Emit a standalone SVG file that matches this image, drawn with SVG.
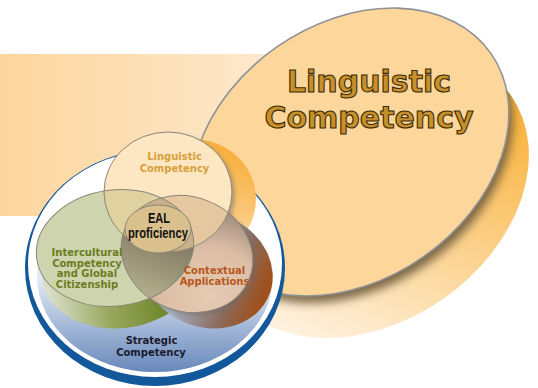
<svg xmlns="http://www.w3.org/2000/svg" width="538" height="388" viewBox="0 0 538 388">
<style>
  .lbl{font-family:"DejaVu Sans",Verdana,sans-serif;font-weight:bold;font-size:10px;text-anchor:middle}
  .title{font-family:"DejaVu Sans",Verdana,sans-serif;font-weight:bold;font-size:30px;text-anchor:middle;fill:#c8902b;stroke:#3a2c06;stroke-width:1.1}
  .edge{fill:none;stroke:#8b8577;stroke-width:1}
  .eal{font-family:"Liberation Sans",Arial,sans-serif;font-weight:bold;font-size:14px;text-anchor:middle;fill:#111}
</style>
<defs>
  <ellipse id="eBig" cx="350" cy="152" rx="172" ry="128" transform="rotate(-35 350 152)"/>
  <ellipse id="eG" cx="115" cy="248" rx="79" ry="58" transform="rotate(-8 115 248)"/>
  <ellipse id="eL" cx="168" cy="192" rx="64" ry="60"/>
  <ellipse id="eC" cx="187" cy="254" rx="67" ry="57" transform="rotate(22 187 254)"/>
  <clipPath id="cShadow"><use href="#eBig" transform="translate(20,42)"/></clipPath>
  <clipPath id="cG"><use href="#eG"/></clipPath>
  <clipPath id="cL"><use href="#eL"/></clipPath>
  <clipPath id="cC"><use href="#eC"/></clipPath>
  <filter id="blur5" x="-20%" y="-20%" width="140%" height="140%"><feGaussianBlur stdDeviation="5"/></filter>
  <filter id="blur2" x="-20%" y="-20%" width="140%" height="140%"><feGaussianBlur stdDeviation="2"/></filter>
  <linearGradient id="band" gradientUnits="userSpaceOnUse" x1="0" y1="0" x2="300" y2="0">
    <stop offset="0" stop-color="#fcd59c"/><stop offset="1" stop-color="#fdebd2"/>
  </linearGradient>
  <linearGradient id="shGrad" gradientUnits="userSpaceOnUse" x1="270" y1="330" x2="520" y2="180">
    <stop offset="0" stop-color="#fef1de"/><stop offset="0.4" stop-color="#fcd9a0"/><stop offset="1" stop-color="#f9b43e"/>
  </linearGradient>
  <linearGradient id="blueReg" gradientUnits="userSpaceOnUse" x1="0" y1="240" x2="0" y2="372">
    <stop offset="0" stop-color="#ffffff"/><stop offset="0.35" stop-color="#d8e2f0"/><stop offset="1" stop-color="#6888bb"/>
  </linearGradient>
  <linearGradient id="orangeExt" gradientUnits="userSpaceOnUse" x1="250" y1="150" x2="215" y2="230">
    <stop offset="0" stop-color="#f7aa30"/><stop offset="1" stop-color="#fbd294"/>
  </linearGradient>
  <linearGradient id="greenExt" gradientUnits="userSpaceOnUse" x1="40" y1="0" x2="165" y2="0">
    <stop offset="0" stop-color="#d9dec8"/><stop offset="0.45" stop-color="#9aa860"/><stop offset="1" stop-color="#66821e"/>
  </linearGradient>
  <linearGradient id="brownExt" gradientUnits="userSpaceOnUse" x1="170" y1="0" x2="275" y2="0">
    <stop offset="0" stop-color="#a7b0c2"/><stop offset="0.45" stop-color="#8a6c5e"/><stop offset="0.75" stop-color="#a0501c"/><stop offset="1" stop-color="#a6541a"/>
  </linearGradient>
  <radialGradient id="cGrad" gradientUnits="userSpaceOnUse" cx="225" cy="285" r="90">
    <stop offset="0" stop-color="#e6cab3"/><stop offset="0.55" stop-color="#dcbea6"/><stop offset="1" stop-color="#9a8678"/>
  </radialGradient>
  <linearGradient id="gcGrad" gradientUnits="userSpaceOnUse" x1="0" y1="230" x2="0" y2="310">
    <stop offset="0" stop-color="#756c58"/><stop offset="1" stop-color="#b4b08e"/>
  </linearGradient>
</defs>

<g id="background">
  <rect x="0" y="54" width="320" height="162" fill="url(#band)"/>
</g>

<g id="big-linguistic">
  <use href="#eBig" transform="translate(20,42)" fill="url(#shGrad)"/>
  <g clip-path="url(#cShadow)">
    <use href="#eBig" transform="translate(4,7)" fill="#6e5c3c" filter="url(#blur5)" opacity="0.9"/>
  </g>
  <use href="#eBig" fill="#fdd69c" stroke="#8e9294" stroke-width="1.6"/>
  <text class="title" x="369" y="92">Linguistic</text>
  <text class="title" x="369" y="128">Competency</text>
</g>

<g id="strategic">
  <ellipse cx="155" cy="268" rx="130" ry="118" fill="#13589a"/>
  <ellipse cx="155" cy="264" rx="127" ry="113" fill="#ffffff"/>
  <ellipse cx="155" cy="276" rx="118" ry="96" fill="url(#blueReg)"/>
</g>

<g id="extrusions">
  <use href="#eL" transform="translate(24,7)" fill="url(#orangeExt)"/>
  <use href="#eG" transform="translate(6,22)" fill="url(#greenExt)"/>
  <use href="#eC" transform="translate(20,16)" fill="url(#brownExt)"/>
  <use href="#eL" transform="translate(3,3)" fill="#6f6a66" opacity="0.5" filter="url(#blur2)"/>
  <use href="#eC" transform="translate(3,3)" fill="#6f6a66" opacity="0.5" filter="url(#blur2)"/>
</g>

<g id="intercultural">
  <use href="#eG" fill="#ced4ae"/>
</g>
<g id="contextual">
  <use href="#eC" fill="url(#cGrad)"/>
</g>
<g id="linguistic">
  <use href="#eL" fill="#fde6c2"/>
</g>
<g id="overlaps">
  <g clip-path="url(#cG)"><use href="#eL" fill="#e0d2a0"/></g>
  <g clip-path="url(#cG)"><use href="#eC" fill="url(#gcGrad)"/></g>
  <g clip-path="url(#cC)"><use href="#eL" fill="#e6c8a0"/></g>
  <g clip-path="url(#cG)"><use href="#eL" clip-path="url(#cC)" fill="#c9b088"/></g>
</g>
<g id="edges">
  <use href="#eG" class="edge"/>
  <use href="#eC" class="edge"/>
  <use href="#eL" class="edge"/>
</g>
<g id="eal">
  <ellipse cx="158" cy="229" rx="33" ry="24" fill="#d9c08c" stroke="#8b8577" stroke-width="1"/>
  <text class="eal" x="159" y="223" textLength="22" lengthAdjust="spacingAndGlyphs">EAL</text>
  <text class="eal" x="158" y="238" textLength="60" lengthAdjust="spacingAndGlyphs">proficiency</text>
</g>

<g id="labels">
  <text class="lbl" x="174.5" y="160" fill="#d6a03c">Linguistic</text>
  <text class="lbl" x="174.5" y="172" fill="#d6a03c">Competency</text>
  <text class="lbl" x="87" y="256" fill="#6b7d1e">Intercultural</text>
  <text class="lbl" x="87" y="266.5" fill="#6b7d1e">Competency</text>
  <text class="lbl" x="87" y="277" fill="#6b7d1e">and Global</text>
  <text class="lbl" x="87" y="288" fill="#6b7d1e">Citizenship</text>
  <text class="lbl" x="214.5" y="274" fill="#b5581c">Contextual</text>
  <text class="lbl" x="214.5" y="285" fill="#b5581c">Applications</text>
  <text class="lbl" x="151.5" y="344" fill="#1a1a2e">Strategic</text>
  <text class="lbl" x="151" y="356" fill="#1a1a2e">Competency</text>
</g>
</svg>
